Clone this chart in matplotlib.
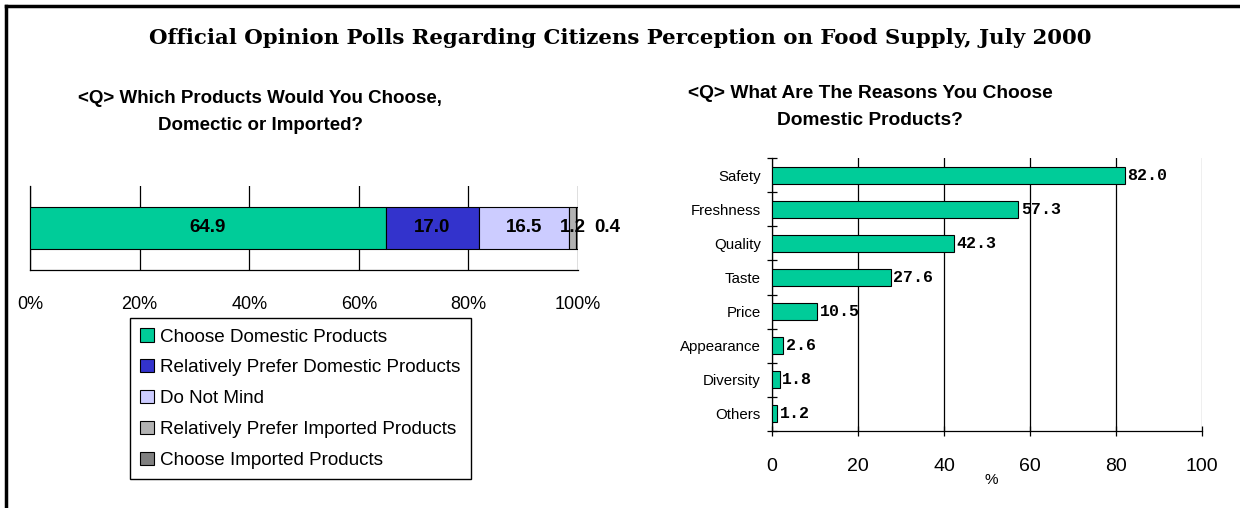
import matplotlib
matplotlib.use("Agg")
import matplotlib.pyplot as plt
from matplotlib.lines import Line2D
import numpy as np

# left chart: stacked share of answers (%)
choice_labels = [
    "Choose Domestic Products",
    "Relatively Prefer Domestic Products",
    "Do Not Mind",
    "Relatively Prefer Imported Products",
    "Choose Imported Products",
]
choice_values = [64.9, 17.0, 16.5, 1.2, 0.4]
choice_colors = ["#00CC99", "#3333CC", "#CCCCFF", "#B2B2B2", "#808080"]
pct_ticks = [0, 20, 40, 60, 80, 100]
pct_ticklabels = ["0%", "20%", "40%", "60%", "80%", "100%"]

# right chart: reasons for choosing domestic products (%)
reasons = ["Safety", "Freshness", "Quality", "Taste", "Price",
           "Appearance", "Diversity", "Others"]
reason_values = [82.0, 57.3, 42.3, 27.6, 10.5, 2.6, 1.8, 1.2]
reason_ticks = [0, 20, 40, 60, 80, 100]

W, H = 1240, 508
plt.rcParams["font.family"] = ["Liberation Sans", "DejaVu Sans"]
fig = plt.figure(figsize=(W / 100, H / 100), dpi=100)


def px_axes(x0, y0, x1, y1):
    return fig.add_axes([x0 / W, 1 - y1 / H, (x1 - x0) / W, (y1 - y0) / H])


# frame lines along top and left
fig.add_artist(Line2D([6 / W, 1], [1 - 6 / H] * 2, color="black", lw=2.5))
fig.add_artist(Line2D([6 / W] * 2, [0, 1 - 6 / H], color="black", lw=2.5))

fig.text(620 / W, 1 - 38 / H,
         "Official Opinion Polls Regarding Citizens Perception on Food Supply, July 2000",
         ha="center", va="center", fontsize=15.3, fontweight="bold",
         family=["DejaVu Serif"])

fig.text(260 / W, 1 - 112 / H,
         "<Q> Which Products Would You Choose,\nDomectic or Imported?",
         ha="center", va="center", fontsize=13.5, fontweight="bold",
         linespacing=1.8)
fig.text(870 / W, 1 - 107 / H,
         "<Q> What Are The Reasons You Choose\nDomestic Products?",
         ha="center", va="center", fontsize=13.8, fontweight="bold",
         linespacing=1.8)

# ---- left: 100% stacked bar ----
ax1 = px_axes(30, 186, 578, 270)
left = 0.0
handles = []
for i, (lab, val, col) in enumerate(zip(choice_labels, choice_values, choice_colors)):
    b = ax1.barh(0, val, left=left, height=0.5, color=col, edgecolor="black",
                 linewidth=0.8, zorder=3, label=lab)
    handles.append(b)
    if i < len(choice_values) - 1:
        ax1.text(left + val / 2, 0, "{:.1f}".format(val), ha="center", va="center",
                 fontsize=13.5, fontweight="bold", zorder=4)
    else:
        ax1.annotate("{:.1f}".format(val), (left + val / 2, 0), xytext=(22, 0),
                     textcoords="offset points", ha="center", va="center",
                     fontsize=13.5, fontweight="bold", zorder=4)
    left += val

ax1.set_xlim(0, 100)
ax1.set_ylim(-0.5, 0.5)
ax1.set_xticks(pct_ticks)
ax1.set_xticklabels(pct_ticklabels, fontsize=13)
ax1.set_yticks([])
ax1.tick_params(axis="x", length=0, pad=19)
ax1.grid(axis="x", color="black", lw=0.9, zorder=0)
for s in ("top", "right"):
    ax1.spines[s].set_visible(False)
for s in ("left", "bottom"):
    ax1.spines[s].set_linewidth(0.9)

fig.legend(handles=handles, loc="upper left",
           bbox_to_anchor=(130 / W, 1 - 318 / H), fontsize=13.6,
           frameon=True, fancybox=False, edgecolor="black", framealpha=1,
           handlelength=0.7, handleheight=0.7, handletextpad=0.35,
           labelspacing=0.72, borderpad=0.55, borderaxespad=0)

# ---- right: horizontal bars ----
ax2 = px_axes(772, 158, 1202, 431)
y = np.arange(len(reasons))
ax2.barh(y, reason_values, height=0.5, color="#00CC99", edgecolor="black",
         linewidth=0.8, zorder=3)
for yi, v in zip(y, reason_values):
    ax2.text(v + 0.6, yi, "{:.1f}".format(v), ha="left", va="center",
             fontsize=12, fontweight="bold", family=["Liberation Mono"], zorder=4)

ax2.set_xlim(0, 100)
ax2.set_ylim(len(reasons) - 0.5, -0.5)
ax2.set_yticks(y)
ax2.set_yticklabels(reasons, fontsize=10.8)
ax2.set_yticks(np.arange(len(reasons) + 1) - 0.5, minor=True)
ax2.tick_params(axis="y", which="major", length=0, pad=8)
ax2.tick_params(axis="y", which="minor", direction="inout", length=7, width=0.9)
ax2.set_xticks(reason_ticks)
ax2.set_xticklabels([str(t) for t in reason_ticks], fontsize=14)
ax2.tick_params(axis="x", direction="inout", length=7, width=0.9, pad=16)
ax2.set_xlabel("%", fontsize=11)
ax2.xaxis.set_label_coords(0.51, -0.155)
ax2.grid(axis="x", color="black", lw=0.9, zorder=0)
ax2.get_xgridlines()[-1].set_color("#808080")
for s in ("top", "right"):
    ax2.spines[s].set_visible(False)
for s in ("left", "bottom"):
    ax2.spines[s].set_linewidth(0.9)

fig.savefig("out.png", dpi=100)
